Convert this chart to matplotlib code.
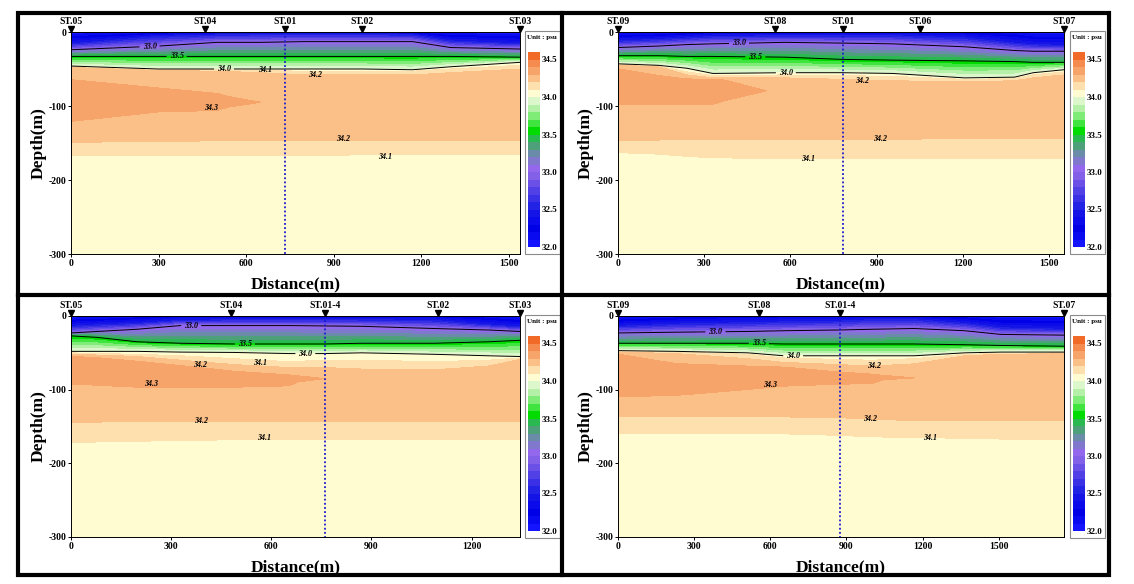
import numpy as np
import matplotlib
matplotlib.use('Agg')
import matplotlib.pyplot as plt
import matplotlib.transforms as mtransforms
from matplotlib.patches import Rectangle
from matplotlib.lines import Line2D

plt.rcParams['font.family'] = ['Liberation Serif', 'DejaVu Serif']
plt.rcParams['font.weight'] = 'bold'
plt.rcParams['axes.unicode_minus'] = False

# ---- salinity bands (psu) ----
levels = np.round(np.arange(32.0, 34.61, 0.1), 1)
band_colors = [
    '#1414ff', '#0a0af0', '#0000e6', '#0a0aeb', '#1414e6',
    '#2323e6', '#3a30e6', '#5040e6', '#6a50e6', '#8260e8',
    '#9468ec', '#7f78cc', '#6a8ca8', '#4ea07a', '#2ab850',
    '#00dc00', '#3fe43f', '#80ec78', '#b4f0a8', '#dcf7cc',
    '#fffcd2', '#fde0ad', '#fbc088', '#f7a46a', '#f58b4e', '#f26a28',
]
cbar_ticks = [32.0, 32.5, 33.0, 33.5, 34.0, 34.5]

# ---- top-left section: ST.05 - ST.03 ----
tl_x = [0, 300, 500, 650, 800, 1000, 1170, 1300, 1538]
tl_surf = [32.0, 32.1, 32.2, 32.2, 32.2, 32.2, 32.1, 32.0, 32.0]
tl_d325 = [16, 6, 4, 3, 3, 3, 4, 12, 16]
tl_d330 = [24, 19, 14, 14, 13, 13, 13, 21, 23]
tl_d335 = [33, 33, 33, 33, 33, 33, 33, 33, 34]
tl_d340 = [46, 50, 50, 50, 50, 50, 51, 47, 41]
tl_d341u = [47, 51, 51, 52, 53, 53, 53, 50, 45]
tl_d342u = [48, 52, 53, 55, 58, 58, 58, 55, 50]
tl_d343u = [66, 78, 86, 90, 80, 80, 80, 80, 80]
tl_dcore = [92, 91, 94, 95, 95, 95, 95, 95, 95]
tl_d343l = [118, 104, 102, 100, 110, 110, 110, 110, 110]
tl_d342l = [149, 148, 147, 147, 146, 146, 146, 146, 146]
tl_d341l = [167, 167, 167, 167, 167, 166, 166, 166, 166]
tl_vedge = [34.31, 34.31, 34.31, 34.27, 34.25, 34.25, 34.25, 34.25, 34.25]
tl_vcore = [34.38, 34.36, 34.34, 34.30, 34.27, 34.27, 34.27, 34.27, 34.27]
tl_st_names = ['ST.05', 'ST.04', 'ST.01', 'ST.02', 'ST.03']
tl_st_x = [0, 460, 733, 997, 1538]
tl_ref_x = 733
tl_xticks = [0, 300, 600, 900, 1200, 1500]
tl_lab_main = [(269, 20), (362, 32), (524, 49)]
tl_lab_sub = [('34.1', 664, 52), ('34.2', 837, 58), ('34.3', 480, 103),
              ('34.2', 933, 144), ('34.1', 1076, 169)]

# ---- top-right section: ST.09 - ST.07 ----
tr_x = [0, 140, 240, 330, 580, 780, 955, 1206, 1380, 1445, 1552]
tr_surf = [32.0, 32.0, 32.1, 32.2, 32.2, 32.2, 32.2, 32.2, 32.1, 32.0, 32.0]
tr_d325 = [12, 10, 8, 6, 5, 5, 5, 8, 15, 17, 18]
tr_d330 = [21, 19, 17, 16, 14, 15, 16, 20, 25, 26, 26]
tr_d335 = [32, 32, 33, 33, 34, 37, 38, 39, 40, 41, 41]
tr_d340 = [43, 45, 49, 56, 55, 55, 56, 62, 61, 55, 51]
tr_d341u = [44, 46, 54, 59, 58, 59, 60, 64, 63, 58, 54]
tr_d342u = [45, 47, 58, 62, 62, 64, 66, 67, 66, 62, 58]
tr_d343u = [50, 60, 64, 64, 70, 80, 80, 80, 80, 80, 80]
tr_dcore = [72, 77, 78, 78, 80, 95, 95, 95, 95, 95, 95]
tr_d343l = [93, 93, 93, 93, 92, 110, 110, 110, 110, 110, 110]
tr_d342l = [146, 146, 145, 145, 145, 145, 145, 144, 144, 144, 144]
tr_d341l = [163, 165, 168, 170, 171, 171, 171, 171, 171, 171, 171]
tr_vedge = [34.31, 34.31, 34.31, 34.31, 34.25, 34.25, 34.25, 34.25, 34.25, 34.25, 34.25]
tr_vcore = [34.38, 34.38, 34.37, 34.36, 34.28, 34.27, 34.27, 34.27, 34.27, 34.27, 34.27]
tr_st_names = ['ST.09', 'ST.08', 'ST.01', 'ST.06', 'ST.07']
tr_st_x = [0, 547, 783, 1051, 1552]
tr_ref_x = 783
tr_xticks = [0, 300, 600, 900, 1200, 1500]
tr_lab_main = [(421, 14), (478, 34), (584, 54)]
tr_lab_sub = [('34.2', 848, 66), ('34.2', 911, 145), ('34.1', 660, 171)]

# ---- bottom-left section: ST.05 - ST.03 (ST.01-4) ----
bl_x = [0, 78, 198, 328, 491, 653, 760, 871, 1088, 1250, 1345]
bl_surf = [32.0, 32.0, 32.1, 32.2, 32.2, 32.2, 32.2, 32.2, 32.2, 32.1, 32.0]
bl_d325 = [14, 12, 10, 6, 5, 5, 5, 5, 6, 12, 15]
bl_d330 = [23, 21, 18, 13, 13, 13, 13.5, 14, 17, 19, 21]
bl_d335 = [27, 29, 35, 37, 38, 38, 38, 37, 37, 35, 33]
bl_d340 = [48, 48, 48, 49, 49.5, 51, 51, 50, 52, 54, 55]
bl_d341u = [50, 51, 52, 54, 58, 62, 60, 60, 62, 60, 57]
bl_d342u = [52, 53, 55, 60, 66, 70, 70, 72, 73, 68, 59]
bl_d343u = [55, 57, 62, 68, 76, 81, 82, 85, 85, 85, 85]
bl_dcore = [71, 73, 77, 80, 84, 85, 85, 95, 95, 95, 95]
bl_d343l = [87, 89, 92, 93, 92, 90, 88, 110, 110, 110, 110]
bl_d342l = [145, 144, 143, 143, 143, 143, 143, 143, 143, 143, 143]
bl_d341l = [172, 171, 170, 169, 168, 167, 167, 167, 167, 167, 167]
bl_vedge = [34.31, 34.31, 34.31, 34.31, 34.31, 34.31, 34.27, 34.25, 34.25, 34.25, 34.25]
bl_vcore = [34.38, 34.38, 34.37, 34.36, 34.34, 34.32, 34.30, 34.27, 34.27, 34.27, 34.27]
bl_st_names = ['ST.05', 'ST.04', 'ST.01-4', 'ST.02', 'ST.03']
bl_st_x = [0, 479, 761, 1099, 1345]
bl_ref_x = 761
bl_xticks = [0, 300, 600, 900, 1200]
bl_lab_main = [(360, 13), (521, 38), (702, 50)]
bl_lab_sub = [('34.2', 388, 67), ('34.1', 565, 64), ('34.3', 241, 92),
              ('34.2', 391, 143), ('34.1', 577, 166)]

# ---- bottom-right section: ST.09 - ST.07 (ST.01-4) ----
br_x = [0, 228, 512, 654, 870, 1000, 1167, 1366, 1508, 1757]
br_surf = [32.0, 32.1, 32.2, 32.2, 32.2, 32.2, 32.2, 32.1, 32.0, 32.0]
br_d325 = [14, 11, 9, 8, 7, 5, 5, 10, 16, 18]
br_d330 = [23, 22, 21, 20, 19, 18, 17, 20, 25, 26]
br_d335 = [37, 37, 37, 38, 38, 38, 38, 39, 40, 41]
br_d340 = [47, 48, 50, 54, 54, 54, 54, 50, 49, 49]
br_d341u = [48, 49, 52, 57, 59, 60, 58, 52, 51, 50]
br_d342u = [49, 51, 58, 63, 66, 68, 65, 54, 52, 51]
br_d343u = [52, 66, 69, 70, 77, 80, 82, 80, 80, 80]
br_dcore = [80, 86, 84, 81, 83, 84, 84, 95, 95, 95]
br_d343l = [107, 105, 96, 91, 88, 87, 86, 110, 110, 110]
br_d342l = [136, 136, 137, 137, 138, 140, 142, 142, 142, 142]
br_d341l = [159, 159, 160, 160, 162, 164, 165, 166, 167, 167]
br_vedge = [34.31, 34.31, 34.31, 34.31, 34.31, 34.31, 34.27, 34.25, 34.25, 34.25]
br_vcore = [34.40, 34.38, 34.36, 34.34, 34.32, 34.31, 34.30, 34.27, 34.27, 34.27]
br_st_names = ['ST.09', 'ST.08', 'ST.01-4', 'ST.07']
br_st_x = [0, 557, 875, 1757]
br_ref_x = 875
br_xticks = [0, 300, 600, 900, 1200, 1500]
br_lab_main = [(384, 22), (555, 37), (690, 53)]
br_lab_sub = [('34.2', 1007, 68), ('34.3', 598, 94), ('34.2', 993, 140), ('34.1', 1228, 166)]


def section_grid(x, surf, d325, d330, d335, d340, d341u, d342u,
                 d343u, dcore, d343l, d342l, d341l, vedge, vcore):
    n = len(x)
    depths = [np.zeros(n), d325, d330, d335, d340, d341u, d342u,
              d343u, dcore, d343l, d342l, d341l, np.full(n, 300.0)]
    values = [surf, 32.5, 33.0, 33.5, 34.0, 34.1, 34.2,
              vedge, vcore, vedge, 34.2, 34.1, 34.05]
    Y = -np.array(depths, dtype=float)
    Z = np.array([np.broadcast_to(np.asarray(v, dtype=float), (n,)) for v in values])
    X = np.tile(np.asarray(x, dtype=float), (len(depths), 1))
    return X, Y, Z


W, H = 1134, 584
fig = plt.figure(figsize=(W / 100, H / 100), dpi=100)


def fbox(left, right, top, bottom):
    return [left / W, 1 - bottom / H, (right - left) / W, (bottom - top) / H]


panels = [
    dict(grid=section_grid(tl_x, tl_surf, tl_d325, tl_d330, tl_d335, tl_d340, tl_d341u, tl_d342u,
                           tl_d343u, tl_dcore, tl_d343l, tl_d342l, tl_d341l, tl_vedge, tl_vcore),
         st=(tl_st_names, tl_st_x), ref=tl_ref_x, xticks=tl_xticks,
         main=tl_lab_main, sub=tl_lab_sub, pos=(71, 520, 32, 254), dx=0, dy=0),
    dict(grid=section_grid(tr_x, tr_surf, tr_d325, tr_d330, tr_d335, tr_d340, tr_d341u, tr_d342u,
                           tr_d343u, tr_dcore, tr_d343l, tr_d342l, tr_d341l, tr_vedge, tr_vcore),
         st=(tr_st_names, tr_st_x), ref=tr_ref_x, xticks=tr_xticks,
         main=tr_lab_main, sub=tr_lab_sub, pos=(618, 1064, 32, 254), dx=545, dy=0),
    dict(grid=section_grid(bl_x, bl_surf, bl_d325, bl_d330, bl_d335, bl_d340, bl_d341u, bl_d342u,
                           bl_d343u, bl_dcore, bl_d343l, bl_d342l, bl_d341l, bl_vedge, bl_vcore),
         st=(bl_st_names, bl_st_x), ref=bl_ref_x, xticks=bl_xticks,
         main=bl_lab_main, sub=bl_lab_sub, pos=(71, 520, 316, 537), dx=0, dy=284),
    dict(grid=section_grid(br_x, br_surf, br_d325, br_d330, br_d335, br_d340, br_d341u, br_d342u,
                           br_d343u, br_dcore, br_d343l, br_d342l, br_d341l, br_vedge, br_vcore),
         st=(br_st_names, br_st_x), ref=br_ref_x, xticks=br_xticks,
         main=br_lab_main, sub=br_lab_sub, pos=(618, 1064, 316, 537), dx=545, dy=284),
]

for p in panels:
    X, Y, Z = p['grid']
    l, r, t, b = p['pos']
    ax = fig.add_axes(fbox(l, r, t, b))
    cf = ax.contourf(X, Y, Z, levels=levels, colors=band_colors)
    cs = ax.contour(X, Y, Z, levels=[33.0, 33.5, 34.0], colors='k', linewidths=0.7)
    lbls = ax.clabel(cs, fmt='%.1f', fontsize=5.8, inline=True, inline_spacing=3,
                     manual=[(mx, -md) for mx, md in p['main']])
    for tx in lbls:
        tx.set_fontstyle('italic')
        tx.set_fontweight('bold')
    for txt, sx, sd in p['sub']:
        ax.text(sx, -sd, txt, fontsize=5.8, style='italic', fontweight='bold',
                ha='center', va='center', color='k')

    xmax = X.max()
    ax.plot([p['ref'], p['ref']], [0, -300], color='#1a1ad0', lw=1.3,
            linestyle=(0, (1, 1.3)))
    ax.set_xlim(0, xmax)
    ax.set_ylim(-300, 0)
    ax.set_xticks(p['xticks'])
    ax.set_yticks([0, -100, -200, -300])
    ax.tick_params(direction='out', length=2.5, width=0.7, labelsize=7, pad=1)
    for s in ax.spines.values():
        s.set_linewidth(0.7)
    ax.set_xlabel('Distance(m)', fontsize=12.5, fontweight='bold')
    ax.set_ylabel('Depth(m)', fontsize=12.5, fontweight='bold')
    ax.xaxis.set_label_coords(0.5, -22 / (b - t))
    ax.yaxis.set_label_coords(-24 / (r - l), 0.5)

    # station markers
    names, sx = p['st']
    off = mtransforms.ScaledTranslation(0, 2.0 / 72, fig.dpi_scale_trans)
    ax.plot(sx, np.zeros(len(sx)), 'v', color='k', ms=4.2, clip_on=False,
            transform=ax.transData + off)
    for nm, xx in zip(names, sx):
        ax.annotate(nm, xy=(xx, 0), xytext=(0, 4.0), textcoords='offset points',
                    ha='center', va='bottom', fontsize=7, fontweight='bold',
                    annotation_clip=False)

    # colour bar inside a framed box
    dx, dy = p['dx'], p['dy']
    fig.add_artist(Rectangle(((525 + dx) / W, 1 - (254 + dy) / H),
                             35 / W, 223 / H, transform=fig.transFigure,
                             facecolor='white', edgecolor='#8a8a8a', lw=0.8, zorder=-1))
    fig.text((542 + dx) / W, 1 - (38 + dy) / H, 'Unit : psu', fontsize=5,
             fontweight='bold', ha='center', va='center')
    cax = fig.add_axes(fbox(528 + dx, 540 + dx, 52 + dy, 247 + dy))
    cb = fig.colorbar(cf, cax=cax, ticks=cbar_ticks, format='%.1f')
    cb.outline.set_visible(False)
    cax.tick_params(length=0, labelsize=6.5, pad=1.5)

# thick panel frame
frame_kw = dict(color='k', lw=3, transform=fig.transFigure, zorder=20)
fig.add_artist(Rectangle((18 / W, 1 - 575 / H), (1109 - 18) / W, (575 - 13) / H,
                         fill=False, edgecolor='k', lw=3, transform=fig.transFigure, zorder=20))
fig.add_artist(Line2D([562 / W, 562 / W], [1 - 13 / H, 1 - 575 / H], **frame_kw))
fig.add_artist(Line2D([18 / W, 1109 / W], [1 - 295 / H, 1 - 295 / H], **frame_kw))

fig.savefig('out.png', dpi=100)
